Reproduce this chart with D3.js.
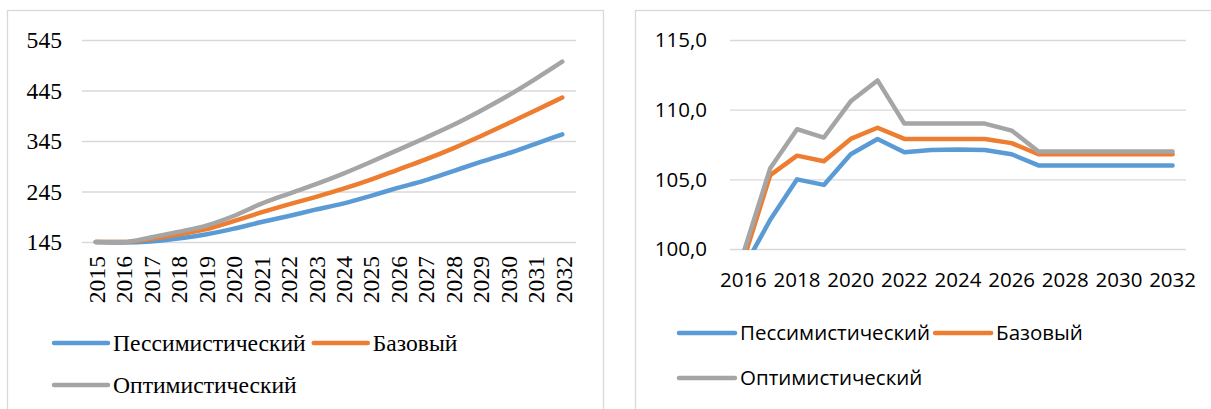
<!DOCTYPE html>
<html>
<head>
<meta charset="utf-8">
<script src="https://cdn.jsdelivr.net/npm/d3@7"></script>
<style>
  body { margin: 0; background: #fff; }
  svg { display: block; }
</style>
</head>
<body>
<svg id="chart" width="1211" height="409"></svg>
<script>
// --- данные ---
const seriesNames = ["Пессимистический", "Базовый", "Оптимистический"];
const seriesColors = ["#5B9BD5", "#ED7D31", "#A5A5A5"];

// левый график
const yearsLeft = [2015, 2016, 2017, 2018, 2019, 2020, 2021, 2022, 2023,
  2024, 2025, 2026, 2027, 2028, 2029, 2030, 2031, 2032];
const pessLeft = [145, 144, 146, 152, 160, 171, 184, 196, 209, 221, 236, 252, 267, 285, 303, 320, 339, 358];
const baseLeft = [145, 145, 151, 160, 170, 186, 203, 219, 234, 250, 268, 288, 308, 330, 354, 379, 405, 431];
const optLeft = [145, 145, 154, 165, 177, 196, 220, 240, 259, 280, 303, 327, 351, 376, 404, 434, 467, 502];
const ticksLeft = [145, 245, 345, 445, 545];

// правый график
const yearsRight = [2016, 2017, 2018, 2019, 2020, 2021, 2022, 2023, 2024,
  2025, 2026, 2027, 2028, 2029, 2030, 2031, 2032];
const pessRight = [98.6, 102.1, 105.0, 104.6, 106.8, 107.9, 106.95, 107.1, 107.15, 107.1, 106.8, 106.0, 106.0, 106.0, 106.0, 106.0, 106.0];
const baseRight = [99.2, 105.3, 106.7, 106.3, 107.9, 108.7, 107.9, 107.9, 107.9, 107.9, 107.6, 106.8, 106.8, 106.8, 106.8, 106.8, 106.8];
const optRight = [99.7, 105.8, 108.6, 108.0, 110.6, 112.1, 109.0, 109.0, 109.0, 109.0, 108.5, 107.0, 107.0, 107.0, 107.0, 107.0, 107.0];
const ticksRight = [100, 105, 110, 115];
const xLabelsRight = [2016, 2018, 2020, 2022, 2024, 2026, 2028, 2030, 2032];

const svg = d3.select("#chart");
const gridColor = "#D9D9D9";

// рамки панелей
svg.append("rect")
  .attr("x", 7.5).attr("y", 10.5)
  .attr("width", 596).attr("height", 420)
  .attr("fill", "none").attr("stroke", gridColor).attr("stroke-width", 1.3);
svg.append("rect")
  .attr("x", 635.5).attr("y", 10.5)
  .attr("width", 600).attr("height", 420)
  .attr("fill", "none").attr("stroke", gridColor).attr("stroke-width", 1.3);

function legend(g, x0, y0, rowGap, sampleLen, font, size, gap) {
  const items = [0, 1, 2];
  let x = x0;
  items.forEach(i => {
    const row = i === 2 ? 1 : 0;
    if (i === 2) x = x0;
    const y = y0 + row * rowGap;
    g.append("line")
      .attr("x1", x).attr("x2", x + sampleLen)
      .attr("y1", y).attr("y2", y)
      .attr("stroke", seriesColors[i])
      .attr("stroke-width", 4.5)
      .attr("stroke-linecap", "round");
    const t = g.append("text")
      .attr("x", x + sampleLen + 5)
      .attr("y", y)
      .attr("dy", "0.35em")
      .style("font-family", font)
      .style("font-size", size + "px")
      .attr("fill", "#000")
      .text(seriesNames[i]);
    x = x + sampleLen + 5 + t.node().getComputedTextLength() + gap;
  });
}

// ---------- левый график ----------
{
  const serif = "'Liberation Serif', 'Times New Roman', serif";
  const g = svg.append("g");
  const x = d3.scalePoint().domain(yearsLeft).range([82, 576]).padding(0.5);
  const y = d3.scaleLinear().domain([145, 545]).range([242, 40]);

  g.append("g")
    .selectAll("line")
    .data(ticksLeft)
    .join("line")
    .attr("x1", 82).attr("x2", 576)
    .attr("y1", d => y(d) + 0.5).attr("y2", d => y(d) + 0.5)
    .attr("stroke", gridColor).attr("stroke-width", 1.3);

  g.append("g")
    .selectAll("text")
    .data(ticksLeft)
    .join("text")
    .attr("x", 62)
    .attr("y", d => y(d))
    .attr("dy", "0.35em")
    .attr("text-anchor", "end")
    .style("font-family", serif)
    .style("font-size", "23.6px")
    .text(d => d);

  g.append("g")
    .selectAll("text")
    .data(yearsLeft)
    .join("text")
    .attr("transform", d => `translate(${x(d) + 1},256) rotate(-90)`)
    .attr("dy", "0.35em")
    .attr("text-anchor", "end")
    .style("font-family", serif)
    .style("font-size", "23.6px")
    .text(d => d);

  const line = d3.line()
    .x((d, i) => x(yearsLeft[i]))
    .y(d => y(d))
    .curve(d3.curveMonotoneX);

  [pessLeft, baseLeft, optLeft].forEach((s, i) => {
    g.append("path")
      .datum(s)
      .attr("fill", "none")
      .attr("stroke", seriesColors[i])
      .attr("stroke-width", 4.5)
      .attr("stroke-linecap", "round")
      .attr("stroke-linejoin", "round")
      .attr("d", line);
  });

  legend(g, 54, 343, 42, 54, serif, 23.6, 8);
}

// ---------- правый график ----------
{
  const sans = "'Open Sans', 'Noto Sans', sans-serif";
  const g = svg.append("g");
  const x = d3.scalePoint().domain(yearsRight).range([730, 1186]).padding(0.5);
  const y = d3.scaleLinear().domain([100, 115]).range([249, 40]);

  svg.append("defs").append("clipPath").attr("id", "clipR")
    .append("rect").attr("x", 730).attr("y", 20).attr("width", 470).attr("height", 230);

  g.append("g")
    .selectAll("line")
    .data(ticksRight)
    .join("line")
    .attr("x1", 730).attr("x2", 1186)
    .attr("y1", d => y(d) + 0.5).attr("y2", d => y(d) + 0.5)
    .attr("stroke", gridColor).attr("stroke-width", 1.3);

  g.append("g")
    .selectAll("text")
    .data(ticksRight)
    .join("text")
    .attr("x", 707)
    .attr("y", d => y(d))
    .attr("dy", "0.35em")
    .attr("text-anchor", "end")
    .style("font-family", sans)
    .style("font-size", "20.5px")
    .text(d => d3.format(".1f")(d).replace(".", ","));

  g.append("g")
    .selectAll("text")
    .data(xLabelsRight)
    .join("text")
    .attr("x", d => x(d))
    .attr("y", 280)
    .attr("dy", "0.35em")
    .attr("text-anchor", "middle")
    .style("font-family", sans)
    .style("font-size", "20.5px")
    .text(d => d);

  const line = d3.line()
    .x((d, i) => x(yearsRight[i]))
    .y(d => y(d));

  [pessRight, baseRight, optRight].forEach((s, i) => {
    g.append("path")
      .datum(s)
      .attr("clip-path", "url(#clipR)")
      .attr("fill", "none")
      .attr("stroke", seriesColors[i])
      .attr("stroke-width", 4.5)
      .attr("stroke-linecap", "round")
      .attr("stroke-linejoin", "round")
      .attr("d", line);
  });

  legend(g, 679, 333, 45, 56, sans, 20.5, 5);
}
</script>
</body>
</html>
